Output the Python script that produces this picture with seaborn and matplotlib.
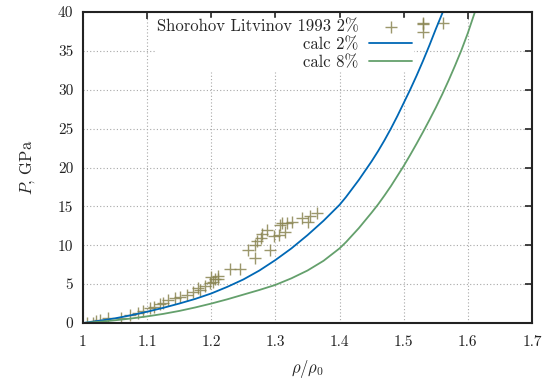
import matplotlib
matplotlib.use("Agg")
import matplotlib.pyplot as plt
import seaborn as sns
import pandas as pd

# experimental data (Shorohov Litvinov 1993 2%)
exp_rho = [1.006, 1.016, 1.0265, 1.039, 1.073, 1.086, 1.094, 1.1045, 1.11, 1.125,
           1.133, 1.1435, 1.151, 1.162, 1.172, 1.1825, 1.19, 1.198, 1.203, 1.206,
           1.211, 1.229, 1.245, 1.258, 1.268, 1.268, 1.271, 1.277, 1.279, 1.2866,
           1.292, 1.297, 1.305, 1.307, 1.31, 1.315, 1.318, 1.3256, 1.341, 1.3515,
           1.354, 1.3645, 1.53, 1.53, 1.53, 1.5616,
           1.02, 1.06, 1.12, 1.18, 1.2, 1.21]
exp_P = [0.0, 0.05, 0.4, 0.6, 1.0, 1.25, 1.6, 1.9, 2.1, 2.6,
         3.0, 3.2, 3.4, 3.6, 4.0, 4.2, 4.7, 5.1, 5.3, 5.7,
         6.0, 7.0, 6.9, 9.4, 10.0, 8.3, 10.5, 10.9, 11.5, 12.0,
         9.4, 11.2, 11.3, 12.6, 12.8, 11.7, 12.9, 13.0, 13.5, 13.0,
         13.7, 14.1, 38.6, 38.4, 37.4, 38.6,
         0.2, 0.7, 2.4, 4.5, 5.9, 5.6]

# calc 2%
c2_rho = [1.00, 1.025, 1.05, 1.075, 1.10, 1.125, 1.15, 1.175, 1.20, 1.225, 1.25,
          1.275, 1.30, 1.325, 1.35, 1.375, 1.40, 1.41, 1.42, 1.43, 1.44, 1.45,
          1.46, 1.47, 1.48, 1.49, 1.50, 1.51, 1.52, 1.53, 1.54, 1.55, 1.561]
c2_P = [0.0, 0.28, 0.6, 1.0, 1.45, 1.95, 2.5, 3.1, 3.8, 4.65, 5.6,
        6.75, 8.1, 9.6, 11.3, 13.15, 15.2, 16.2, 17.3, 18.4, 19.6, 20.8,
        22.1, 23.5, 25.0, 26.6, 28.3, 30.0, 31.8, 33.7, 35.7, 37.8, 40.0]

# calc 8%
c8_rho = [1.00, 1.025, 1.05, 1.075, 1.10, 1.125, 1.15, 1.175, 1.20, 1.225, 1.25,
          1.275, 1.30, 1.325, 1.35, 1.375, 1.40, 1.41, 1.42, 1.43, 1.44, 1.45,
          1.46, 1.47, 1.48, 1.49, 1.50, 1.51, 1.52, 1.53, 1.54, 1.55, 1.56,
          1.57, 1.58, 1.59, 1.60, 1.611]
c8_P = [0.0, 0.15, 0.35, 0.58, 0.85, 1.17, 1.55, 2.0, 2.5, 3.05, 3.65,
        4.25, 4.9, 5.75, 6.75, 8.0, 9.6, 10.4, 11.3, 12.2, 13.2, 14.2,
        15.25, 16.4, 17.6, 18.9, 20.2, 21.6, 23.05, 24.55, 26.1, 27.7, 29.4,
        31.2, 33.1, 35.1, 37.3, 40.0]

x_ticks = [1, 1.1, 1.2, 1.3, 1.4, 1.5, 1.6, 1.7]
x_labels = ["1", "1.1", "1.2", "1.3", "1.4", "1.5", "1.6", "1.7"]
y_ticks = [0, 5, 10, 15, 20, 25, 30, 35, 40]

sns.set_style("white")
plt.rcParams["font.family"] = ["cmr10", "DejaVu Serif"]
plt.rcParams["mathtext.fontset"] = "cm"
plt.rcParams["axes.unicode_minus"] = False
plt.rcParams["axes.formatter.use_mathtext"] = True

fig = plt.figure(figsize=(5.48, 3.81), dpi=100)
ax = fig.add_axes([83 / 548, 1 - 323 / 381, (532 - 83) / 548, (323 - 12) / 381])

df_exp = pd.DataFrame({"rho": exp_rho, "P": exp_P})
df_c2 = pd.DataFrame({"rho": c2_rho, "P": c2_P})
df_c8 = pd.DataFrame({"rho": c8_rho, "P": c8_P})

sns.scatterplot(data=df_exp, x="rho", y="P", ax=ax, marker="+", s=75,
                color="#8a8552", linewidth=1.0, alpha=0.85,
                label="Shorohov Litvinov 1993 2%", zorder=3)
sns.lineplot(data=df_c2, x="rho", y="P", ax=ax, color="#0068b5", linewidth=1.3,
             sort=False, estimator=None, label="calc 2%", zorder=4)
sns.lineplot(data=df_c8, x="rho", y="P", ax=ax, color="#64a06c", linewidth=1.3,
             sort=False, estimator=None, label="calc 8%", zorder=4)

ax.set_xlim(1, 1.7)
ax.set_ylim(0, 40)
ax.set_xticks(x_ticks)
ax.set_xticklabels(x_labels)
ax.set_yticks(y_ticks)
ax.set_yticklabels([str(v) for v in y_ticks])
ax.tick_params(axis="both", direction="in", length=5, width=1.2, top=True, right=True,
               labelsize=11, colors="#222222")
ax.tick_params(axis="x", pad=9)
ax.tick_params(axis="y", pad=7)
for sp in ax.spines.values():
    sp.set_visible(True)
    sp.set_linewidth(1.5)
    sp.set_color("#222222")
    sp.set_zorder(6)
ax.grid(True, color="#a8a8a8", linestyle=(0, (1, 2)), linewidth=0.8)
ax.set_axisbelow(True)

ax.set_xlabel(r"$\rho/\rho_0$", fontsize=12, labelpad=6)
ax.set_ylabel(r"$P$, GPa", fontsize=12, labelpad=15)

leg = ax.legend(loc="upper right", bbox_to_anchor=(0.735, 1 - 6 / 311), markerfirst=False,
                frameon=True, fontsize=12, handlelength=2.6, handletextpad=0.6,
                labelspacing=0.15, borderpad=0.05, borderaxespad=0.0)
leg.get_frame().set_facecolor("white")
leg.get_frame().set_edgecolor("white")
leg.get_frame().set_alpha(1.0)
leg.get_frame().set_boxstyle("square", pad=0.0)
leg.set_zorder(2.5)

fig.savefig("out.png", dpi=100)
